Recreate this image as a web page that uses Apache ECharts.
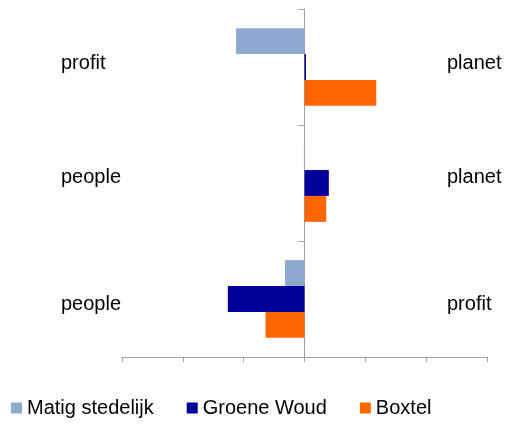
<!DOCTYPE html>
<html>
<head>
<meta charset="utf-8">
<script src="https://cdn.jsdelivr.net/npm/echarts@6/dist/echarts.min.js"></script>
<style>html,body{margin:0;padding:0;background:#fff;}#c{width:509px;height:428px;}</style>
</head>
<body>
<div id="c"></div>
<script>
var rows = ['r1', 'r2', 'r3'];
var leftLabels = ['profit', 'people', 'people'];
var rightLabels = ['planet', 'planet', 'profit'];
var seriesNames = ['Matig stedelijk', 'Groene Woud', 'Boxtel'];
var matig = [-1.125, -0.01, -0.32];
var groene = [0.025, 0.40, -1.26];
var boxtel = [1.18, 0.357, -0.64];
var colors = ['#8DAACC', '#000099', '#FF6600'];

var FONT = 'Liberation Sans, Arial, sans-serif';
var richStyles = {
  t: {fontSize: 20, fontFamily: FONT, color: '#000', padding: [0, 0, 8, 0]},
  m: {fontSize: 20, fontFamily: FONT, color: '#000', padding: [0, 0, 12, 0]},
  b: {fontSize: 20, fontFamily: FONT, color: '#000', padding: [10, 0, 0, 0]}
};
var keys = ['t', 'm', 'b'];

var chart = echarts.init(document.getElementById('c'));
chart.setOption({
  animation: false,
  color: colors,
  grid: {left: 122, right: 22, top: 9, bottom: 71, containLabel: false},
  xAxis: {
    type: 'value', min: -3, max: 3, interval: 1,
    axisLine: {show: true, lineStyle: {color: '#A0A0A0', width: 1}},
    axisTick: {show: true, length: 5, lineStyle: {color: '#A0A0A0'}},
    axisLabel: {show: false},
    splitLine: {show: false}
  },
  yAxis: [
    {
      type: 'category', data: rows, inverse: true,
      axisLine: {show: true, onZero: true, lineStyle: {color: '#A0A0A0', width: 1}},
      axisTick: {show: true, length: 6, lineStyle: {color: '#A0A0A0'}},
      axisLabel: {show: false},
      splitLine: {show: false}
    },
    {
      type: 'category', data: rows, inverse: true, position: 'left',
      axisLine: {show: false, onZero: false},
      axisTick: {show: false},
      axisLabel: {
        show: true, align: 'left', margin: 61,
        formatter: function (v, i) { return '{' + keys[i] + '|' + leftLabels[i] + '}'; },
        rich: richStyles
      }
    },
    {
      type: 'category', data: rows, inverse: true, position: 'right',
      axisLine: {show: false, onZero: false},
      axisTick: {show: false},
      axisLabel: {
        show: true, align: 'left', margin: -40,
        formatter: function (v, i) { return '{' + keys[i] + '|' + rightLabels[i] + '}'; },
        rich: richStyles
      }
    }
  ],
  legend: {
    data: seriesNames, left: 11, top: 398, padding: 0, icon: 'rect',
    itemWidth: 11, itemHeight: 11, itemGap: 33,
    textStyle: {fontSize: 20, fontFamily: FONT, color: '#000'}
  },
  series: [
    {name: seriesNames[0], type: 'bar', yAxisIndex: 0, data: matig, barGap: '0%', barCategoryGap: '33%'},
    {name: seriesNames[1], type: 'bar', yAxisIndex: 0, data: groene, barGap: '0%', barCategoryGap: '33%'},
    {name: seriesNames[2], type: 'bar', yAxisIndex: 0, data: boxtel, barGap: '0%', barCategoryGap: '33%'}
  ]
});
</script>
</body>
</html>
